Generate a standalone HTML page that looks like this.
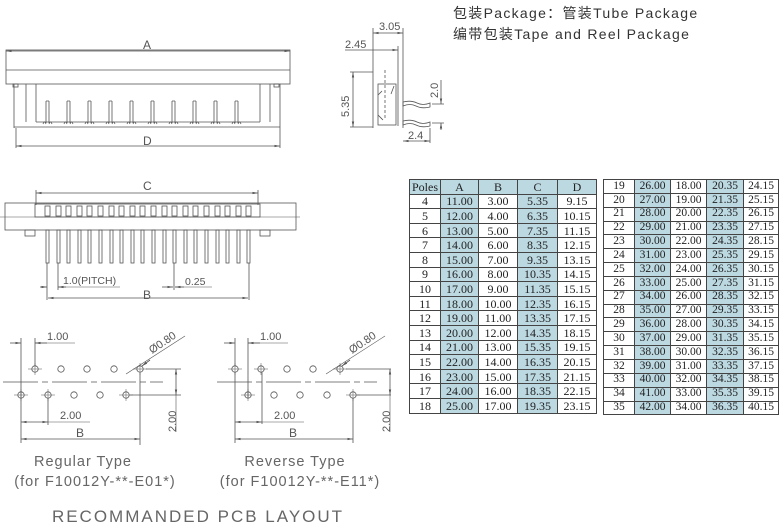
<!DOCTYPE html>
<html><head><meta charset="utf-8"><style>
body{margin:0;width:780px;height:525px;background:#fff;position:relative;overflow:hidden;font-family:"Liberation Sans","Noto Sans CJK SC",sans-serif}
svg{position:absolute;left:0;top:0}
table{position:absolute;border-collapse:collapse;font-family:"Liberation Serif","Noto Serif CJK SC",serif;color:#222;table-layout:fixed}
td{border:1.3px solid #444;text-align:center;padding:0;line-height:1}
td.b{background:#bcd9e2}
.hd td{background:#bcd9e2}
#t1{left:409px;top:179px;width:187px;font-size:12px}
#t1 td{height:13.6px}
#t2{left:603px;top:179px;width:175px;font-size:11.5px}
#t2 td{height:12.85px}
.pk{position:absolute;left:453px;font-size:14px;color:#333;letter-spacing:1.3px;white-space:nowrap}
</style></head><body>
<div class="pk" style="top:3px">包装Package：管装Tube Package</div>
<div class="pk" style="top:24px">编带包装Tape and Reel Package</div>

<svg width="780" height="525" viewBox="0 0 780 525" fill="none" stroke="#555" stroke-width="0.8" font-family="Liberation Sans, sans-serif">
<defs>
<marker id="ar" markerWidth="8" markerHeight="6" refX="7" refY="3" orient="auto-start-reverse"><path d="M0,1.5 L7,3 L0,4.5z" fill="#555" stroke="none"/></marker>
<g id="tp"><path d="M0,101 v22 M3,101 v22 M0,101 h3"/><path d="M-3,124 q1.5,-4 3,0 M3,124 q1.5,-4 3,0"/></g>
<g id="fp"><rect x="0" y="230" width="3" height="33"/><rect x="-1" y="206" width="5" height="10"/></g>
<g id="hole"><circle r="3.2"/></g>
<g id="holec"><circle r="3.2"/><path d="M-7,0 h14 M0,-6 v12" stroke-width="0.5"/></g>
</defs>

<!-- TOP VIEW -->
<line x1="6" y1="51" x2="290" y2="51" marker-start="url(#ar)" marker-end="url(#ar)"/>
<text x="143" y="49" font-size="12" fill="#555" stroke="none">A</text>
<rect x="6" y="50" width="284" height="34"/>
<line x1="6" y1="70" x2="290" y2="70"/>
<path d="M14,84 v44 M26,84 v38 M36,84 v38 M260,84 v38 M270,84 v38 M280,84 v44"/>
<path d="M36,122 h224 M14,127 h266"/>
<rect x="13" y="84" width="5" height="3"/><rect x="274" y="84" width="5" height="3"/>
<use href="#tp" x="46"/><use href="#tp" x="67"/><use href="#tp" x="88"/><use href="#tp" x="109"/><use href="#tp" x="130"/><use href="#tp" x="151"/><use href="#tp" x="172"/><use href="#tp" x="193"/><use href="#tp" x="214"/><use href="#tp" x="235"/>
<path d="M16,128 v20 M280,128 v20"/>
<line x1="16" y1="146" x2="280" y2="146" marker-start="url(#ar)" marker-end="url(#ar)"/>
<text x="143" y="145" font-size="12" fill="#555" stroke="none">D</text>

<!-- FRONT VIEW -->
<path d="M36,190 v15 M258,190 v15"/>
<line x1="36" y1="193" x2="258" y2="193" marker-start="url(#ar)" marker-end="url(#ar)"/>
<text x="143" y="190" font-size="12" fill="#555" stroke="none">C</text>
<rect x="5" y="203" width="291" height="27"/>
<line x1="0" y1="217" x2="300" y2="217" stroke-width="0.6"/>
<rect x="35" y="204" width="225" height="13"/>
<rect x="25" y="230" width="10" height="6"/><rect x="260" y="230" width="10" height="6"/>
<use href="#fp" x="46"/><use href="#fp" x="57"/><use href="#fp" x="67"/><use href="#fp" x="78"/><use href="#fp" x="88"/><use href="#fp" x="99"/><use href="#fp" x="110"/><use href="#fp" x="120"/><use href="#fp" x="131"/><use href="#fp" x="141"/><use href="#fp" x="152"/><use href="#fp" x="163"/><use href="#fp" x="173"/><use href="#fp" x="184"/><use href="#fp" x="194"/><use href="#fp" x="205"/><use href="#fp" x="216"/><use href="#fp" x="226"/><use href="#fp" x="237"/><use href="#fp" x="247"/>
<path d="M47,263 v37 M58,263 v27 M174,263 v27 M249,263 v37"/>
<line x1="40" y1="287" x2="47" y2="287" marker-end="url(#ar)"/><line x1="66" y1="287" x2="58" y2="287" marker-end="url(#ar)"/>
<line x1="58" y1="287" x2="120" y2="287" stroke-width="0.6"/>
<text x="63" y="284" font-size="10.5" fill="#555" stroke="none">1.0(PITCH)</text>
<line x1="162" y1="287" x2="173" y2="287" marker-end="url(#ar)"/><line x1="184" y1="287" x2="175" y2="287" marker-end="url(#ar)"/>
<line x1="175" y1="287" x2="212" y2="287" stroke-width="0.6"/>
<text x="185" y="285" font-size="10.5" fill="#555" stroke="none">0.25</text>
<line x1="48" y1="298" x2="248" y2="298" marker-start="url(#ar)" marker-end="url(#ar)"/>
<text x="143" y="299" font-size="12" fill="#555" stroke="none">B</text>

<!-- SIDE VIEW -->
<path d="M373,28 v100 M403,28 v100 M398,46 v80"/>
<line x1="373" y1="33" x2="403" y2="33" marker-start="url(#ar)" marker-end="url(#ar)"/>
<text x="379" y="30" font-size="11" fill="#555" stroke="none">3.05</text>
<line x1="345" y1="50" x2="398" y2="50" marker-end="url(#ar)"/>
<text x="345" y="48" font-size="11" fill="#555" stroke="none">2.45</text>
<path d="M350,72 h23 M350,127 h23"/>
<line x1="353" y1="72" x2="353" y2="127" marker-start="url(#ar)" marker-end="url(#ar)"/>
<text transform="translate(349,117) rotate(-90)" font-size="11" fill="#555" stroke="none">5.35</text>
<rect x="378" y="84" width="18" height="41"/>
<path d="M385,70 v50" stroke-dasharray="3,2"/>
<path d="M378,95 l4,-4 M378,115 l5,5 M394,86 l-3,8"/>
<path d="M403,102 q8,-2 14,1 t13,0 v4 q-8,2 -14,-1 t-13,0z"/>
<path d="M403,121 q8,-2 14,1 t13,0 v4 q-8,2 -14,-1 t-13,0z"/>
<path d="M432,104 h12 M432,123 h12 M430,128 v15"/>
<line x1="441" y1="80" x2="441" y2="104" marker-end="url(#ar)"/>
<line x1="441" y1="130" x2="441" y2="123" marker-end="url(#ar)"/>
<text transform="translate(438,98) rotate(-90)" font-size="11" fill="#555" stroke="none">2.0</text>
<line x1="403" y1="141" x2="430" y2="141" marker-start="url(#ar)" marker-end="url(#ar)"/>
<text x="408" y="139" font-size="11" fill="#555" stroke="none">2.4</text>

<!-- PCB REGULAR -->
<g>
<path d="M21,338 v60 M35,338 v28"/>
<line x1="10" y1="343" x2="21" y2="343" marker-end="url(#ar)"/><line x1="47" y1="343" x2="35" y2="343" marker-end="url(#ar)"/>
<line x1="35" y1="343" x2="75" y2="343" stroke-width="0.6"/>
<text x="47" y="340" font-size="11" fill="#555" stroke="none">1.00</text>
<use href="#holec" x="35" y="369"/><use href="#hole" x="61" y="369"/><use href="#hole" x="87" y="369"/><use href="#hole" x="114" y="369"/><use href="#holec" x="140" y="369"/>
<use href="#holec" x="21" y="395"/><use href="#holec" x="48" y="395"/><use href="#hole" x="74" y="395"/><use href="#hole" x="100" y="395"/><use href="#holec" x="126" y="395"/>
<path d="M3,382 h160" stroke-dasharray="35,4,6,4"/>
<path d="M140,373 v72 M21,398 v45 M48,398 v27 M146,369 h35 M130,395 h51"/>
<line x1="126" y1="374" x2="185" y2="336" stroke-width="0.6"/><line x1="150" y1="360" x2="142" y2="366" marker-end="url(#ar)"/>
<text transform="translate(152,354) rotate(-34)" font-size="11" fill="#555" stroke="none">Ø0.80</text>
<line x1="21" y1="422" x2="48" y2="422" marker-start="url(#ar)" marker-end="url(#ar)"/>
<text x="60" y="419" font-size="11" fill="#555" stroke="none">2.00</text>
<line x1="48" y1="422" x2="90" y2="422" stroke-width="0.6"/>
<line x1="21" y1="439" x2="140" y2="439" marker-start="url(#ar)" marker-end="url(#ar)"/>
<text x="76" y="437" font-size="12" fill="#555" stroke="none">B</text>
<line x1="176" y1="369" x2="176" y2="395" marker-start="url(#ar)" marker-end="url(#ar)"/>
<line x1="176" y1="395" x2="176" y2="432" stroke-width="0.6"/>
<text transform="translate(176,432) rotate(-90)" font-size="11" fill="#555" stroke="none">2.00</text>
</g>

<!-- PCB REVERSE -->
<g>
<path d="M235,338 v28 M248,338 v60 M262,372 v52"/>
<line x1="224" y1="343" x2="235" y2="343" marker-end="url(#ar)"/><line x1="260" y1="343" x2="248" y2="343" marker-end="url(#ar)"/>
<line x1="248" y1="343" x2="288" y2="343" stroke-width="0.6"/>
<text x="260" y="340" font-size="11" fill="#555" stroke="none">1.00</text>
<use href="#holec" x="235" y="369"/><use href="#holec" x="261" y="369"/><use href="#hole" x="287" y="369"/><use href="#hole" x="313" y="369"/><use href="#holec" x="340" y="369"/>
<use href="#holec" x="248" y="395"/><use href="#hole" x="274" y="395"/><use href="#hole" x="300" y="395"/><use href="#hole" x="327" y="395"/><use href="#holec" x="353" y="395"/>
<path d="M217,382 h160" stroke-dasharray="35,4,6,4"/>
<path d="M235,372 v71 M353,398 v45 M346,369 h45 M357,395 h34"/>
<line x1="326" y1="374" x2="385" y2="336" stroke-width="0.6"/><line x1="350" y1="360" x2="342" y2="366" marker-end="url(#ar)"/>
<text transform="translate(352,354) rotate(-34)" font-size="11" fill="#555" stroke="none">Ø0.80</text>
<line x1="235" y1="422" x2="262" y2="422" marker-start="url(#ar)" marker-end="url(#ar)"/>
<line x1="262" y1="422" x2="304" y2="422" stroke-width="0.6"/>
<text x="274" y="419" font-size="11" fill="#555" stroke="none">2.00</text>
<line x1="235" y1="439" x2="353" y2="439" marker-start="url(#ar)" marker-end="url(#ar)"/>
<text x="289" y="437" font-size="12" fill="#555" stroke="none">B</text>
<line x1="390" y1="369" x2="390" y2="395" marker-start="url(#ar)" marker-end="url(#ar)"/>
<line x1="390" y1="395" x2="390" y2="432" stroke-width="0.6"/>
<text transform="translate(390,432) rotate(-90)" font-size="11" fill="#555" stroke="none">2.00</text>
</g>

<g fill="#666" stroke="none" font-size="14.5" letter-spacing="1">
<text x="83" y="466" text-anchor="middle">Regular Type</text>
<text x="95" y="486" text-anchor="middle">(for F10012Y-**-E01*)</text>
<text x="295" y="466" text-anchor="middle">Reverse Type</text>
<text x="300" y="486" text-anchor="middle">(for F10012Y-**-E11*)</text>
<text x="198" y="522" text-anchor="middle" font-size="17" letter-spacing="2">RECOMMANDED PCB LAYOUT</text>
</g>
</svg>

<table id="t1">
<colgroup><col style="width:31px"><col style="width:38px"><col style="width:39px"><col style="width:40px"><col style="width:39px"></colgroup>
<tr class="hd"><td>Poles</td><td>A</td><td>B</td><td>C</td><td>D</td></tr>
<tr><td>4</td><td class="b">11.00</td><td>3.00</td><td class="b">5.35</td><td>9.15</td></tr>
<tr><td>5</td><td class="b">12.00</td><td>4.00</td><td class="b">6.35</td><td>10.15</td></tr>
<tr><td>6</td><td class="b">13.00</td><td>5.00</td><td class="b">7.35</td><td>11.15</td></tr>
<tr><td>7</td><td class="b">14.00</td><td>6.00</td><td class="b">8.35</td><td>12.15</td></tr>
<tr><td>8</td><td class="b">15.00</td><td>7.00</td><td class="b">9.35</td><td>13.15</td></tr>
<tr><td>9</td><td class="b">16.00</td><td>8.00</td><td class="b">10.35</td><td>14.15</td></tr>
<tr><td>10</td><td class="b">17.00</td><td>9.00</td><td class="b">11.35</td><td>15.15</td></tr>
<tr><td>11</td><td class="b">18.00</td><td>10.00</td><td class="b">12.35</td><td>16.15</td></tr>
<tr><td>12</td><td class="b">19.00</td><td>11.00</td><td class="b">13.35</td><td>17.15</td></tr>
<tr><td>13</td><td class="b">20.00</td><td>12.00</td><td class="b">14.35</td><td>18.15</td></tr>
<tr><td>14</td><td class="b">21.00</td><td>13.00</td><td class="b">15.35</td><td>19.15</td></tr>
<tr><td>15</td><td class="b">22.00</td><td>14.00</td><td class="b">16.35</td><td>20.15</td></tr>
<tr><td>16</td><td class="b">23.00</td><td>15.00</td><td class="b">17.35</td><td>21.15</td></tr>
<tr><td>17</td><td class="b">24.00</td><td>16.00</td><td class="b">18.35</td><td>22.15</td></tr>
<tr><td>18</td><td class="b">25.00</td><td>17.00</td><td class="b">19.35</td><td>23.15</td></tr>
</table>

<table id="t2">
<colgroup><col style="width:31px"><col style="width:36px"><col style="width:36px"><col style="width:37px"><col style="width:35px"></colgroup>
<tr><td>19</td><td class="b">26.00</td><td>18.00</td><td class="b">20.35</td><td>24.15</td></tr>
<tr><td>20</td><td class="b">27.00</td><td>19.00</td><td class="b">21.35</td><td>25.15</td></tr>
<tr><td>21</td><td class="b">28.00</td><td>20.00</td><td class="b">22.35</td><td>26.15</td></tr>
<tr><td>22</td><td class="b">29.00</td><td>21.00</td><td class="b">23.35</td><td>27.15</td></tr>
<tr><td>23</td><td class="b">30.00</td><td>22.00</td><td class="b">24.35</td><td>28.15</td></tr>
<tr><td>24</td><td class="b">31.00</td><td>23.00</td><td class="b">25.35</td><td>29.15</td></tr>
<tr><td>25</td><td class="b">32.00</td><td>24.00</td><td class="b">26.35</td><td>30.15</td></tr>
<tr><td>26</td><td class="b">33.00</td><td>25.00</td><td class="b">27.35</td><td>31.15</td></tr>
<tr><td>27</td><td class="b">34.00</td><td>26.00</td><td class="b">28.35</td><td>32.15</td></tr>
<tr><td>28</td><td class="b">35.00</td><td>27.00</td><td class="b">29.35</td><td>33.15</td></tr>
<tr><td>29</td><td class="b">36.00</td><td>28.00</td><td class="b">30.35</td><td>34.15</td></tr>
<tr><td>30</td><td class="b">37.00</td><td>29.00</td><td class="b">31.35</td><td>35.15</td></tr>
<tr><td>31</td><td class="b">38.00</td><td>30.00</td><td class="b">32.35</td><td>36.15</td></tr>
<tr><td>32</td><td class="b">39.00</td><td>31.00</td><td class="b">33.35</td><td>37.15</td></tr>
<tr><td>33</td><td class="b">40.00</td><td>32.00</td><td class="b">34.35</td><td>38.15</td></tr>
<tr><td>34</td><td class="b">41.00</td><td>33.00</td><td class="b">35.35</td><td>39.15</td></tr>
<tr><td>35</td><td class="b">42.00</td><td>34.00</td><td class="b">36.35</td><td>40.15</td></tr>
</table>
</body></html>
